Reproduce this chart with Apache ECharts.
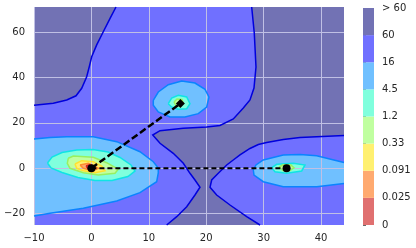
<!DOCTYPE html>
<html><head><meta charset="utf-8">
<script src="https://cdn.jsdelivr.net/npm/echarts@6/dist/echarts.min.js"></script>
<style>html,body{margin:0;padding:0;background:#fff}#c{width:416px;height:248px}</style>
</head><body><div id="c"></div>
<script>
// ---------- axes ----------
const xRange = [-10, 44];
const yRange = [-25, 71];
const xTicks = [-10, 0, 10, 20, 30, 40];
const yTicks = [-20, 0, 20, 40, 60];
const cbLabels = ['0', '0.025', '0.091', '0.33', '1.2', '4.5', '16', '60', '> 60'];

// ---------- contour level 60 (open curves ending on the frame) ----------
const c60TopLeft = [[-10,27.7],[-6.64,28.6],[-4.3,30.05],[-2.68,31.9],[-1.69,35.2],[-0.82,40.3],[-0.37,44.7],[0.05,49.1],[0.92,54.3],[2.07,60.1],[3.25,66.0],[4.28,71]];
const c60Middle = [[27.92,71],[28.37,59.55],[28.67,44.58],[28.32,35.33],[27.62,30.05],[26.46,26.53],[24.72,21.68],[22.4,18.82],[20.08,18.16],[16.01,17.59],[11.95,16.53],[10.68,14.64],[11.95,10.98],[14.26,6.58],[16.01,2.18],[17.17,-2.23],[18.04,-5.18],[18.92,-8.39],[18.04,-11.78],[16.6,-16.93],[14.86,-21.34],[13.11,-25]];
const c60Right = [[44,14.42],[39.24,13.89],[36.33,13.54],[33.42,12.66],[30.53,11.33],[29.07,10.45],[27.62,8.69],[25.88,5.83],[24.71,3.63],[23.57,1.43],[22.1,-2.23],[20.95,-5.18],[20.66,-8.39],[21.82,-11.78],[24.14,-16.19],[27.05,-21.34],[29.37,-25]];

// ---------- contour level 16 ----------
const c16Left = [[-10,12.88],[-7.21,13.54],[-4.3,13.89],[0.33,13.89],[4.41,11.69],[8.46,7.28],[10.78,2.88],[11.65,0.11],[11.65,-2.1],[11.37,-5.93],[8.46,-10.77],[4.41,-14.42],[-1.41,-17.64],[-7.21,-19.84],[-10,-21.03]];
const c16Mid = [[10.78,29.92],[11.65,33.57],[13.39,36.79],[15.73,38.42],[18.04,37.53],[19.79,34.76],[20.48,31.37],[20.08,26.97],[18.62,24.02],[16.3,22.56],[13.69,22.56],[11.65,24.77],[10.78,27.72]];
const c16Right = [[44,2.53],[39.24,5.52],[36.33,6.05],[33.42,5.83],[29.94,3.63],[28.67,1.43],[28.2,-0.77],[28.32,-2.98],[29.94,-5.93],[33.42,-8.13],[39.24,-8.13],[44,-6.72]];

// ---------- contour level 4.5 ----------
const c4_5Left = [[-7.65,2.31],[-6.86,4.95],[-5.12,6.93],[-2.56,8.03],[0.28,8.25],[2.89,7.15],[4.98,4.73],[6.9,1.43],[7.59,-1.21],[6.37,-3.64],[3.59,-5.4],[0.63,-5.4],[-2.34,-4.08],[-5.12,-1.88],[-7.04,0.11]];
const c4_5Mid = [[13.39,28.42],[13.98,30.93],[15.13,32.12],[16.6,31.37],[17.17,28.42],[16.6,26.22],[15.13,25.95],[13.98,26.97]];
const c4_5Right = [[31.4,0.24],[32.28,1.74],[35.17,2.18],[37.2,1.43],[36.63,-1.21],[34.02,-2.23],[31.98,-1.52]];

// ---------- contour level 1.2 ----------
const c1_2Left = [[-4.03,4.38],[-3.15,5.39],[0.33,4.82],[2.66,2.44],[4.68,-0.47],[4.11,-2.23],[1.2,-2.98],[-1.41,-1.96],[-3.73,-0.03],[-4.2,2.18]];
const c1_2Mid = [[14.39,29.17],[14.91,30.49],[15.78,30.27],[16.04,28.51],[15.43,27.41],[14.73,27.63]];
const c1_2Right = [[32.68,0.55],[33.37,1.52],[34.77,1.43],[35.29,0.11],[34.59,-1.0],[33.37,-1.0]];

// ---------- inner levels of the left well ----------
const c0_33Left = [[-2.86,1.87],[-1.69,3.32],[0.33,2.88],[1.79,0.99],[2.37,-1.08],[0.63,-1.96],[-1.41,-1.08],[-2.56,-0.03]];
const c0_091Left = [[-1.99,1.43],[-0.54,2.18],[1.2,-0.03],[0.33,-1.08],[-1.41,-0.03]];
const c0_025Left = [[-0.94,0.99],[-0.25,1.65],[0.63,0.55],[0.28,-0.55],[-0.59,-0.11]];

// ---------- minima and paths ----------
const wellPoints = [[0, 0], [15.5, 28.5], [34, 0]];
const wellSymbols = ['circle', 'diamond', 'circle'];
const pathToMid = [[0, 0], [15.5, 28.5]];
const pathToRight = [[0, 0], [34, 0]];

// ---------- styles ----------
const bandColors = ['#e07070', '#ffaa70', '#fff070', '#c0ffa0', '#80ffdd', '#70c0ff', '#7070ff', '#7272b4'];
const levelColors = { 1: '#d82020', 2: '#ff8a30', 3: '#ffe030', 4: '#98f060', 5: '#10e4e4', 6: '#0a84ff', 7: '#0000dc' };
const gridStroke = '#c0c0e4';

const [x0, x1] = xRange, [y0, y1] = yRange;
const regions = [
  { band: 7, pts: [[x0, y0], [x1, y0], [x1, y1], [x0, y1]] },
  { band: 6, pts: [...c60TopLeft, ...c60Middle, [x0, y0]] },
  { band: 6, pts: [...c60Right, [x1, y0]] },
  { band: 5, pts: c16Left }, { band: 5, pts: c16Mid }, { band: 5, pts: c16Right },
  { band: 4, pts: c4_5Left }, { band: 4, pts: c4_5Mid }, { band: 4, pts: c4_5Right },
  { band: 3, pts: c1_2Left }, { band: 3, pts: c1_2Mid }, { band: 3, pts: c1_2Right },
  { band: 2, pts: c0_33Left }, { band: 1, pts: c0_091Left }, { band: 0, pts: c0_025Left }
];
const contours = [
  { level: 7, pts: c60TopLeft }, { level: 7, pts: c60Middle }, { level: 7, pts: c60Right },
  { level: 6, pts: c16Left }, { level: 6, pts: c16Mid, closed: true }, { level: 6, pts: c16Right },
  { level: 5, pts: c4_5Left, closed: true }, { level: 5, pts: c4_5Mid, closed: true }, { level: 5, pts: c4_5Right, closed: true },
  { level: 4, pts: c1_2Left, closed: true }, { level: 4, pts: c1_2Mid, closed: true }, { level: 4, pts: c1_2Right, closed: true },
  { level: 3, pts: c0_33Left, closed: true }, { level: 2, pts: c0_091Left, closed: true }, { level: 1, pts: c0_025Left, closed: true }
];

const minus = v => (v < 0 ? '\u2212' + Math.abs(v) : String(v));
const txt = { fontFamily: 'DejaVu Sans', fontSize: 10, color: '#262626' };
const split = { show: true, lineStyle: { color: gridStroke, width: 1 } };

const chart = echarts.init(document.getElementById('c'), null, { renderer: 'canvas' });
chart.setOption({
  animation: false,
  grid: [
    { left: 34, right: 72, top: 7, bottom: 23 },
    { left: 363, width: 11, top: 8, height: 217 }
  ],
  xAxis: [
    { type: 'value', gridIndex: 0, min: x0, max: x1, z: 5,
      axisLine: { show: false }, axisTick: { show: false, customValues: xTicks },
      axisLabel: Object.assign({ customValues: xTicks, formatter: minus, margin: 8 }, txt),
      splitLine: split },
    { type: 'value', gridIndex: 1, min: 0, max: 1, show: false }
  ],
  yAxis: [
    { type: 'value', gridIndex: 0, min: y0, max: y1, z: 5,
      axisLine: { show: false }, axisTick: { show: false, customValues: yTicks },
      axisLabel: Object.assign({ customValues: yTicks, formatter: minus, margin: 9 }, txt),
      splitLine: split },
    { type: 'value', gridIndex: 1, min: 0, max: 8, interval: 1, position: 'right',
      axisLine: { show: false },
      axisTick: { show: true, length: 3, lineStyle: { color: '#444444', width: 0.8 } },
      axisLabel: Object.assign({ formatter: v => cbLabels[v], margin: 8 }, txt),
      splitLine: { show: false } }
  ],
  series: [
    { type: 'custom', xAxisIndex: 0, yAxisIndex: 0, z: -1, clip: true, silent: true,
      data: regions.map((r, i) => [i, 0]),
      renderItem: (params, api) => {
        const r = regions[api.value(0)];
        return { type: 'polygon', shape: { points: r.pts.map(p => api.coord(p)) },
                 style: { fill: bandColors[r.band], stroke: null } };
      } },
    { type: 'custom', xAxisIndex: 0, yAxisIndex: 0, z: 6, silent: true,
      data: contours.map((c, i) => [i, 0]),
      renderItem: (params, api) => {
        const c = contours[api.value(0)];
        const pts = c.pts.map(p => api.coord(p));
        if (c.closed) pts.push(pts[0]);
        return { type: 'polyline', shape: { points: pts },
                 style: { fill: null, stroke: levelColors[c.level], lineWidth: 1.5 } };
      } },
    { type: 'line', xAxisIndex: 0, yAxisIndex: 0, z: 20, data: pathToMid, symbol: 'none',
      lineStyle: { color: '#000000', width: 2.5, type: [7, 3] } },
    { type: 'line', xAxisIndex: 0, yAxisIndex: 0, z: 20, data: pathToRight, symbol: 'none',
      lineStyle: { color: '#000000', width: 2, type: [5, 3] } },
    { type: 'scatter', xAxisIndex: 0, yAxisIndex: 0, z: 21,
      data: wellPoints.map((p, i) => ({ value: p, symbol: wellSymbols[i], symbolSize: wellSymbols[i] === 'diamond' ? 9 : 8 })),
      itemStyle: { color: '#000000', opacity: 1 } },
    { type: 'custom', xAxisIndex: 1, yAxisIndex: 1, silent: true,
      data: bandColors.map((c, i) => [0, i]),
      renderItem: (params, api) => {
        const i = api.value(1);
        const a = api.coord([0, i]), b = api.coord([1, i + 1]);
        return { type: 'rect', shape: { x: a[0], y: b[1], width: b[0] - a[0], height: a[1] - b[1] },
                 style: { fill: bandColors[i] } };
      } }
  ]
});
</script></body></html>
